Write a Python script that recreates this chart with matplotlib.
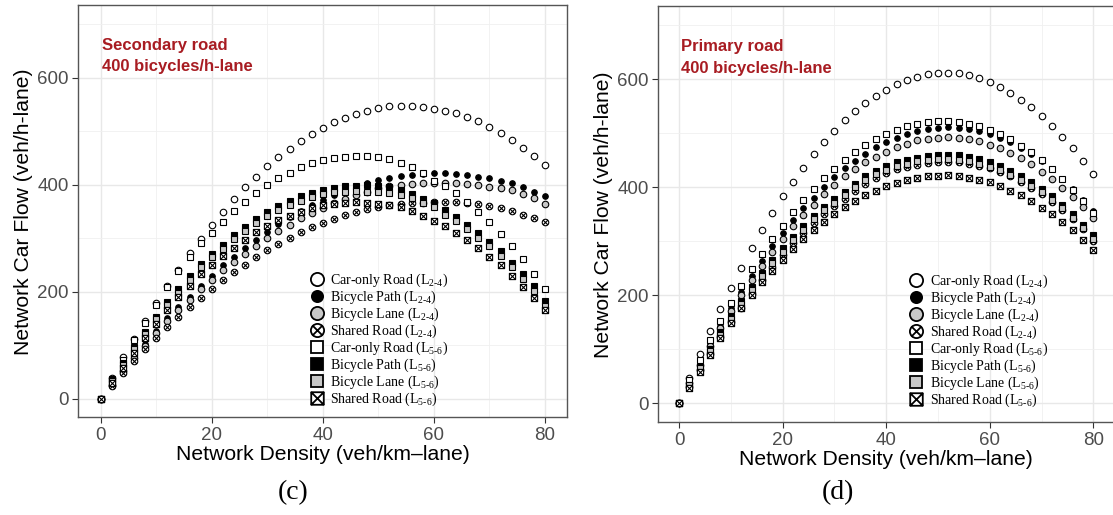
import matplotlib
matplotlib.use('Agg')
import matplotlib.pyplot as plt
import numpy as np
from matplotlib.path import Path
from matplotlib.lines import Line2D

plt.rcParams['font.family'] = ['Liberation Sans', 'DejaVu Sans']
plt.rcParams['mathtext.fontset'] = 'custom'
plt.rcParams['mathtext.rm'] = 'Liberation Serif'
plt.rcParams['mathtext.it'] = 'Liberation Serif:italic'

density = np.arange(0, 81, 2)

# Secondary road (c)
sec_car24 = [0, 38, 77, 112, 145, 179, 211, 241, 272, 299, 325, 349, 373, 395, 415, 434, 451, 467, 482, 494,
             506, 517, 525, 532, 538, 543, 546, 547, 547, 545, 542, 538, 534, 527, 518, 508, 497, 484, 469, 454, 436]
sec_path24 = [0, 27, 53, 78, 102, 126, 150, 171, 190, 211, 230, 249, 264, 282, 297, 312, 326, 339, 351, 361,
              371, 380, 387, 394, 403, 409, 413, 416, 418, 420, 421, 421, 420, 418, 415, 412, 407, 402, 395, 387, 379]
sec_lane24 = [0, 26, 51, 75, 99, 122, 145, 166, 184, 205, 222, 240, 256, 271, 286, 300, 314, 325, 337, 347,
              356, 365, 373, 381, 387, 393, 398, 400, 401, 402, 403, 403, 403, 401, 399, 396, 393, 389, 383, 375, 363]
sec_shared24 = [0, 24, 47, 70, 93, 114, 134, 153, 171, 188, 205, 221, 236, 250, 264, 277, 289, 300, 311, 320,
                328, 336, 343, 349, 354, 358, 361, 363, 365, 366, 367, 368, 367, 366, 363, 360, 356, 350, 344, 338, 330]
sec_car56 = [0, 36, 73, 109, 142, 175, 208, 239, 265, 290, 310, 330, 350, 367, 384, 399, 412, 422, 432, 440,
             446, 450, 452, 453, 453, 451, 447, 440, 432, 421, 407, 397, 384, 367, 349, 330, 308, 285, 260, 233, 205]
sec_path56 = [0, 34, 67, 97, 125, 153, 180, 205, 229, 252, 270, 287, 305, 320, 336, 349, 360, 370, 378, 384,
              390, 394, 397, 398, 399, 398, 396, 390, 382, 373, 365, 352, 339, 324, 310, 292, 275, 253, 233, 210, 182]
sec_lane56 = [0, 32, 63, 92, 120, 148, 174, 198, 222, 246, 264, 280, 298, 313, 328, 342, 353, 362, 370, 377,
              382, 386, 387, 388, 387, 386, 384, 380, 374, 366, 358, 344, 331, 316, 301, 285, 267, 245, 224, 201, 173]
sec_shared56 = [0, 30, 58, 86, 113, 139, 165, 190, 210, 232, 249, 267, 282, 297, 311, 322, 333, 342, 349, 356,
                361, 364, 366, 367, 366, 363, 361, 358, 351, 341, 332, 322, 310, 296, 282, 265, 249, 230, 209, 188, 165]

# Primary road (d)
pri_car24 = [0, 46, 91, 134, 175, 214, 251, 287, 321, 352, 383, 410, 436, 461, 484, 505, 524, 541, 556, 569,
             581, 591, 598, 604, 609, 611, 612, 611, 608, 602, 595, 585, 575, 562, 548, 532, 514, 494, 472, 449, 424]
pri_path24 = [0, 40, 77, 111, 144, 176, 207, 236, 264, 291, 316, 339, 361, 381, 401, 419, 435, 449, 462, 474,
              483, 492, 499, 504, 508, 510, 511, 510, 508, 504, 499, 492, 483, 472, 461, 449, 433, 415, 397, 377, 357]
pri_lane24 = [0, 37, 71, 106, 139, 170, 200, 228, 255, 281, 305, 328, 349, 368, 387, 404, 420, 434, 446, 457,
              466, 475, 481, 487, 490, 492, 493, 492, 490, 486, 479, 472, 463, 454, 443, 429, 415, 399, 382, 363, 343]
pri_shared24 = [0, 31, 62, 92, 122, 150, 177, 203, 229, 253, 275, 296, 315, 334, 351, 365, 379, 393, 406, 417,
                426, 433, 438, 442, 445, 446, 447, 446, 444, 440, 435, 428, 420, 410, 399, 387, 373, 358, 341, 322, 301]
pri_car56 = [0, 43, 80, 117, 152, 185, 217, 248, 276, 304, 329, 354, 376, 397, 417, 434, 450, 465, 478, 489,
             499, 507, 513, 518, 521, 523, 523, 521, 518, 513, 507, 498, 489, 477, 465, 450, 433, 415, 395, 374, 352]
pri_path56 = [0, 34, 68, 100, 132, 162, 190, 216, 241, 265, 287, 308, 328, 346, 363, 378, 392, 407, 420, 431,
              439, 446, 451, 455, 458, 459, 460, 459, 457, 453, 447, 440, 431, 421, 410, 397, 383, 368, 350, 331, 311]
pri_lane56 = [0, 33, 65, 96, 127, 156, 183, 209, 236, 259, 281, 302, 321, 341, 358, 371, 385, 400, 413, 424,
              432, 439, 444, 448, 451, 452, 452, 451, 448, 443, 438, 432, 423, 413, 403, 391, 376, 362, 344, 324, 304]
pri_shared56 = [0, 29, 58, 89, 120, 149, 176, 200, 224, 245, 265, 286, 304, 321, 336, 350, 363, 375, 385, 394,
                402, 408, 414, 417, 420, 421, 422, 421, 418, 414, 409, 403, 394, 385, 375, 362, 350, 336, 320, 303, 284]

labels = ['Car-only Road (L$_{2\\text{-}4}$)', 'Bicycle Path (L$_{2\\text{-}4}$)',
          'Bicycle Lane (L$_{2\\text{-}4}$)', 'Shared Road (L$_{2\\text{-}4}$)',
          'Car-only Road (L$_{5\\text{-}6}$)', 'Bicycle Path (L$_{5\\text{-}6}$)',
          'Bicycle Lane (L$_{5\\text{-}6}$)', 'Shared Road (L$_{5\\text{-}6}$)']

# marker shapes
d = 0.7071
circ_x = Path.make_compound_path(
    Path.unit_circle(),
    Path([(-d, -d), (d, d), (-d, d), (d, -d)], [Path.MOVETO, Path.LINETO, Path.MOVETO, Path.LINETO]))
sq = Path([(-1, -1), (1, -1), (1, 1), (-1, 1), (-1, -1)],
          [Path.MOVETO, Path.LINETO, Path.LINETO, Path.LINETO, Path.CLOSEPOLY])
sq_x = Path.make_compound_path(
    sq, Path([(-1, -1), (1, 1), (-1, 1), (1, -1)], [Path.MOVETO, Path.LINETO, Path.MOVETO, Path.LINETO]))

grey = '#C8C8C8'
# (marker, facecolor, size factor)
styles = [('o', 'white', 1.0), ('o', 'black', 0.85), ('o', grey, 1.0), (circ_x, 'white', 1.0),
          ('s', 'white', 0.95), ('s', 'black', 0.95), ('s', grey, 0.95), (sq_x, 'white', 0.95)]

red = '#A81C22'


def draw_panel(ax, series, title):
    for vals, (m, fc, f) in zip(series, styles):
        ax.plot(density, vals, linestyle='none', marker=m, markersize=4.7 * f,
                markerfacecolor=fc, markeredgecolor='black', markeredgewidth=0.8)
    ax.set_xlim(-4, 84)
    ax.set_ylim(-35, 735)
    ax.set_xticks([0, 20, 40, 60, 80])
    ax.set_xticks([10, 30, 50, 70], minor=True)
    ax.set_yticks([0, 200, 400, 600])
    ax.set_yticks([100, 300, 500, 700], minor=True)
    ax.grid(which='major', color='#E8E8E8', linewidth=1.0)
    ax.grid(which='minor', color='#F0F0F0', linewidth=0.6)
    ax.set_axisbelow(True)
    ax.tick_params(which='major', labelsize=13.5, labelcolor='#4D4D4D', color='#333333',
                   length=4, width=0.8, pad=3)
    ax.tick_params(which='minor', length=0)
    for s in ax.spines.values():
        s.set_color('#555555')
        s.set_linewidth(1.0)
    ax.set_xlabel('Network Density (veh/km\u2013lane)', fontsize=15.2, labelpad=1)
    ax.set_ylabel('Network Car Flow (veh/h-lane)', fontsize=15.2, labelpad=3)
    ax.text(0.3, 660, title[0], color=red, fontsize=12, fontweight='bold', va='center', ha='left')
    ax.text(0.3, 620, title[1], color=red, fontsize=12, fontweight='bold', va='center', ha='left')

    handles = []
    for m, fc, f in styles:
        handles.append(Line2D([], [], linestyle='none', marker=m, markersize=9.5 * f,
                              markerfacecolor=fc, markeredgecolor='black', markeredgewidth=1.3))
    return handles


fig = plt.figure(figsize=(11.13, 5.15), dpi=100)
ax1 = fig.add_axes([0.0705, 0.1897, 0.4391, 0.800])
ax2 = fig.add_axes([0.5915, 0.1802, 0.4094, 0.8074])

h1 = draw_panel(ax1, [sec_car24, sec_path24, sec_lane24, sec_shared24,
                      sec_car56, sec_path56, sec_lane56, sec_shared56],
                ('Secondary road', '400 bicycles/h-lane'))
h2 = draw_panel(ax2, [pri_car24, pri_path24, pri_lane24, pri_shared24,
                      pri_car56, pri_path56, pri_lane56, pri_shared56],
                ('Primary road', '400 bicycles/h-lane'))

leg_kw = dict(loc='center left', frameon=False, borderpad=0, borderaxespad=0,
              handlelength=1.0, handletextpad=0.5, labelspacing=-0.03,
              prop={'family': 'Liberation Serif', 'size': 10})
ax1.legend(h1, labels, bbox_to_anchor=(0.473, 0.188), **leg_kw)
ax2.legend(h2, labels, bbox_to_anchor=(0.550, 0.196), **leg_kw)

fig.text(293 / 1113, 1 - 493 / 515, '(c)', fontsize=20, family='Liberation Serif', ha='center', va='center')
fig.text(838 / 1113, 1 - 493 / 515, '(d)', fontsize=20, family='Liberation Serif', ha='center', va='center')

fig.savefig('out.png', dpi=100)
